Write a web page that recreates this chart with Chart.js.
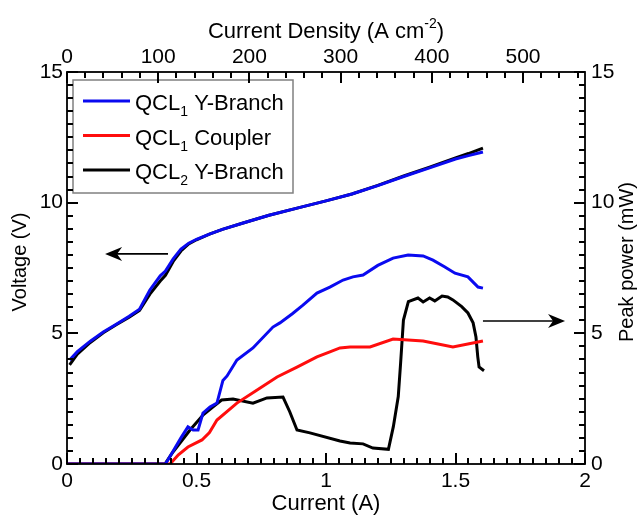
<!DOCTYPE html>
<html>
<head>
<meta charset="utf-8">
<script src="https://cdn.jsdelivr.net/npm/chart.js@4.4.1/dist/chart.umd.min.js"></script>
<style>
  html, body { margin: 0; padding: 0; background: #fff; }
</style>
</head>
<body>
<canvas id="myChart" width="644" height="517"></canvas>
<script>
const FONT = "'Liberation Sans', Arial, sans-serif";
const BLUE = "#0a0af0";
const RED = "#ff0d0d";
const BLACK = "#000000";

// voltage (left axis), both Y-branch devices share the current points
const ivCurrent = [0.01, 0.04, 0.09, 0.14, 0.19, 0.24, 0.28, 0.32, 0.36, 0.38, 0.41, 0.44, 0.47, 0.5, 0.55, 0.6, 0.68, 0.78, 0.9, 1.0, 1.1, 1.2, 1.3, 1.4, 1.5, 1.55, 1.606];
const ivQcl1Y = [3.98, 4.3, 4.7, 5.05, 5.35, 5.65, 5.92, 6.66, 7.2, 7.38, 7.85, 8.22, 8.45, 8.6, 8.8, 8.98, 9.22, 9.52, 9.82, 10.07, 10.33, 10.65, 11.0, 11.33, 11.67, 11.8, 11.94];
const ivQcl2Y = [3.79, 4.2, 4.65, 5.02, 5.33, 5.62, 5.88, 6.5, 7.0, 7.22, 7.75, 8.15, 8.42, 8.58, 8.8, 8.98, 9.22, 9.52, 9.82, 10.07, 10.33, 10.66, 11.02, 11.36, 11.71, 11.88, 12.09];

// peak power (right axis)
const pQcl1YCurrent = [0, 0.38, 0.41, 0.44, 0.467, 0.487, 0.506, 0.525, 0.552, 0.579, 0.602, 0.618, 0.656, 0.718, 0.795, 0.822, 0.87, 0.911, 0.965, 1.015, 1.066, 1.104, 1.143, 1.2, 1.259, 1.317, 1.375, 1.413, 1.459, 1.498, 1.548, 1.587, 1.606];
const pQcl1Y = [0, 0, 0.5, 1.0, 1.42, 1.3, 1.3, 1.95, 2.18, 2.33, 3.2, 3.37, 3.98, 4.44, 5.24, 5.4, 5.75, 6.08, 6.54, 6.77, 7.04, 7.16, 7.23, 7.6, 7.88, 8.0, 7.96, 7.8, 7.54, 7.3, 7.16, 6.77, 6.73];

const pQcl1CCurrent = [0, 0.398, 0.43, 0.467, 0.521, 0.55, 0.579, 0.656, 0.734, 0.811, 0.888, 0.965, 1.015, 1.054, 1.093, 1.17, 1.259, 1.375, 1.49, 1.606];
const pQcl1C = [0, 0, 0.35, 0.65, 0.92, 1.2, 1.68, 2.33, 2.83, 3.33, 3.71, 4.1, 4.29, 4.44, 4.48, 4.48, 4.78, 4.71, 4.48, 4.71];

const pQcl2YCurrent = [0, 0.378, 0.41, 0.475, 0.526, 0.564, 0.597, 0.641, 0.718, 0.772, 0.834, 0.86, 0.888, 0.938, 1.054, 1.093, 1.143, 1.181, 1.241, 1.26, 1.279, 1.288, 1.299, 1.318, 1.355, 1.375, 1.4, 1.42, 1.448, 1.47, 1.49, 1.524, 1.548, 1.568, 1.579, 1.586, 1.591, 1.61];
const pQcl2Y = [0, 0, 0.47, 1.3, 1.88, 2.19, 2.45, 2.49, 2.33, 2.53, 2.56, 2.0, 1.3, 1.19, 0.88, 0.8, 0.77, 0.61, 0.56, 1.43, 2.58, 3.85, 5.51, 6.21, 6.35, 6.2, 6.35, 6.24, 6.43, 6.39, 6.28, 6.02, 5.78, 5.4, 4.86, 4.1, 3.71, 3.57];

// axes
const currentTicks = [0, 0.5, 1, 1.5, 2];
const densityTicks = [0, 100, 200, 300, 400, 500];
const densityMax = 568; // current density at 2 A
const valueTicks = [0, 5, 10, 15];

// legend entries: name, subscript, rest
const legendEntries = [
  ["QCL", "1", " Y-Branch", BLUE],
  ["QCL", "1", " Coupler", RED],
  ["QCL", "2", " Y-Branch", BLACK],
];

// arrows pointing to the axis each curve group belongs to
const voltageArrow = { from: 0.39, to: 0.147, at: 8.04 };
const powerArrow = { from: 1.606, to: 1.923, at: 5.47 };

const pts = (xs, ys) => xs.map((x, i) => ({ x, y: ys[i] }));

const series = (label, data, color, axis) => ({
  label,
  data,
  yAxisID: axis,
  borderColor: color,
  backgroundColor: color,
  borderWidth: 3,
  pointRadius: 0,
  showLine: true,
  tension: 0,
});

function drawArrow(ctx, x1, y, x2) {
  const dir = Math.sign(x2 - x1);
  ctx.strokeStyle = "#000";
  ctx.fillStyle = "#000";
  ctx.lineWidth = 1.6;
  ctx.beginPath();
  ctx.moveTo(x1, y);
  ctx.lineTo(x2 - dir * 8, y);
  ctx.stroke();
  ctx.beginPath();
  ctx.moveTo(x2, y);
  ctx.lineTo(x2 - dir * 17, y - 7);
  ctx.lineTo(x2 - dir * 12, y);
  ctx.lineTo(x2 - dir * 17, y + 7);
  ctx.closePath();
  ctx.fill();
}

// minor/major tick marks pointing into the plot, drawn as small filled bars
function innerTicks(ctx, scale, lo, hi, step, majorEvery, edge, dir, horizontal) {
  const n = Math.floor((hi - lo) / step + 1e-6);
  ctx.fillStyle = "#000";
  for (let i = 0; i <= n; i++) {
    const p = Math.round(scale.getPixelForValue(lo + i * step));
    const len = i % majorEvery === 0 ? 11 : 6;
    if (horizontal) {
      ctx.fillRect(p - 1, dir > 0 ? edge : edge - len, 2, len);
    } else {
      ctx.fillRect(dir > 0 ? edge : edge - len, p - 1, len, 2);
    }
  }
}

const decor = {
  id: "decor",
  afterDraw(chart) {
    const { ctx, chartArea: a, scales } = chart;
    ctx.save();
    ctx.setLineDash([]);
    ctx.globalAlpha = 1;

    drawArrow(ctx, scales.x.getPixelForValue(voltageArrow.from), scales.y.getPixelForValue(voltageArrow.at), scales.x.getPixelForValue(voltageArrow.to));
    drawArrow(ctx, scales.x.getPixelForValue(powerArrow.from), scales.y2.getPixelForValue(powerArrow.at), scales.x.getPixelForValue(powerArrow.to));

    // axis titles
    ctx.fillStyle = "#000";
    ctx.textBaseline = "middle";
    ctx.textAlign = "center";
    ctx.font = "22px " + FONT;
    const cx = (a.left + a.right) / 2;
    ctx.fillText("Current (A)", cx, 504);

    // top title with superscript
    const main = "Current Density (A cm";
    const w1 = ctx.measureText(main).width;
    const w3 = ctx.measureText(")").width;
    ctx.font = "14px " + FONT;
    const w2 = ctx.measureText("-2").width;
    const tx = cx - (w1 + w2 + w3) / 2;
    ctx.textAlign = "left";
    ctx.textBaseline = "alphabetic";
    ctx.font = "22px " + FONT;
    ctx.fillText(main, tx, 38);
    ctx.font = "14px " + FONT;
    ctx.fillText("-2", tx + w1, 28);
    ctx.font = "22px " + FONT;
    ctx.fillText(")", tx + w1 + w2, 38);

    const cy = (a.top + a.bottom) / 2;
    ctx.textAlign = "center";
    ctx.textBaseline = "middle";
    ctx.font = "20px " + FONT;
    ctx.save();
    ctx.translate(20, cy - 6);
    ctx.rotate(-Math.PI / 2);
    ctx.fillText("Voltage (V)", 0, 0);
    ctx.restore();
    ctx.save();
    ctx.translate(627, cy - 6);
    ctx.rotate(-Math.PI / 2);
    ctx.fillText("Peak power (mW)", 0, 0);
    ctx.restore();

    // legend box
    const bx = 73, by = 80, bw = 220, bh = 113;
    ctx.fillStyle = "#fff";
    ctx.fillRect(bx, by, bw, bh);
    ctx.strokeStyle = "#808080";
    ctx.lineWidth = 1.5;
    ctx.strokeRect(bx, by, bw, bh);
    legendEntries.forEach(([name, sub, rest, color], i) => {
      const base = 104 + i * 34.5;
      ctx.strokeStyle = color;
      ctx.lineWidth = 3;
      ctx.beginPath();
      ctx.moveTo(83, base - 3);
      ctx.lineTo(130, base - 3);
      ctx.stroke();
      ctx.fillStyle = "#000";
      ctx.textAlign = "left";
      ctx.textBaseline = "alphabetic";
      ctx.font = "22px " + FONT;
      let x = 135;
      ctx.fillText(name, x, base + 6);
      x += ctx.measureText(name).width;
      ctx.font = "14px " + FONT;
      ctx.fillText(sub, x, base + 12);
      x += ctx.measureText(sub).width;
      ctx.font = "22px " + FONT;
      ctx.fillText(rest, x, base + 6);
    });

    // frame and inward ticks last
    ctx.strokeStyle = "#000";
    ctx.lineWidth = 1.8;
    ctx.strokeRect(a.left, a.top, a.right - a.left, a.bottom - a.top);
    innerTicks(ctx, scales.x, 0, 2, 0.05, 10, a.bottom, -1, true);
    innerTicks(ctx, scales.x2, 0, densityMax, 20, 5, a.top, 1, true);
    innerTicks(ctx, scales.y, 0, 15, 0.5, 10, a.left, 1, false);
    innerTicks(ctx, scales.y2, 0, 15, 0.5, 10, a.right, -1, false);

    ctx.restore();
  },
};

const tickFont = { family: FONT, size: 21 };
const noGrid = { display: false, drawTicks: false };

new Chart("myChart", {
  type: "scatter",
  data: {
    datasets: [
      series("QCL1 Y-Branch V", pts(ivCurrent, ivQcl1Y), BLUE, "y"),
      series("QCL2 Y-Branch V", pts(ivCurrent, ivQcl2Y), BLACK, "y"),
      series("QCL1 Y-Branch P", pts(pQcl1YCurrent, pQcl1Y), BLUE, "y2"),
      series("QCL1 Coupler P", pts(pQcl1CCurrent, pQcl1C), RED, "y2"),
      series("QCL2 Y-Branch P", pts(pQcl2YCurrent, pQcl2Y), BLACK, "y2"),
    ],
  },
  options: {
    responsive: false,
    animation: false,
    devicePixelRatio: 1,
    layout: { padding: 0 },
    plugins: { legend: { display: false }, tooltip: { enabled: false } },
    scales: {
      x: {
        type: "linear",
        position: "bottom",
        min: 0,
        max: 2,
        afterBuildTicks: s => { s.ticks = currentTicks.map(v => ({ value: v })); },
        afterFit: s => { s.height = 53; },
        ticks: { font: tickFont, color: "#000", padding: 5, autoSkip: false, maxRotation: 0, callback: v => String(v) },
        grid: noGrid,
        border: { display: false },
      },
      x2: {
        type: "linear",
        position: "top",
        min: 0,
        max: densityMax,
        afterBuildTicks: s => { s.ticks = densityTicks.map(v => ({ value: v })); },
        afterFit: s => { s.height = 72; },
        ticks: { font: tickFont, color: "#000", padding: 2, autoSkip: false, maxRotation: 0, callback: v => String(v) },
        grid: noGrid,
        border: { display: false },
      },
      y: {
        position: "left",
        min: 0,
        max: 15,
        afterBuildTicks: s => { s.ticks = valueTicks.map(v => ({ value: v })); },
        afterFit: s => { s.width = 67; },
        ticks: { font: tickFont, color: "#000", padding: 4, autoSkip: false, callback: v => String(v) },
        grid: noGrid,
        border: { display: false },
      },
      y2: {
        position: "right",
        min: 0,
        max: 15,
        afterBuildTicks: s => { s.ticks = valueTicks.map(v => ({ value: v })); },
        afterFit: s => { s.width = 59; },
        ticks: { font: tickFont, color: "#000", padding: 6, autoSkip: false, callback: v => String(v) },
        grid: noGrid,
        border: { display: false },
      },
    },
  },
  plugins: [decor],
});
</script>
</body>
</html>
